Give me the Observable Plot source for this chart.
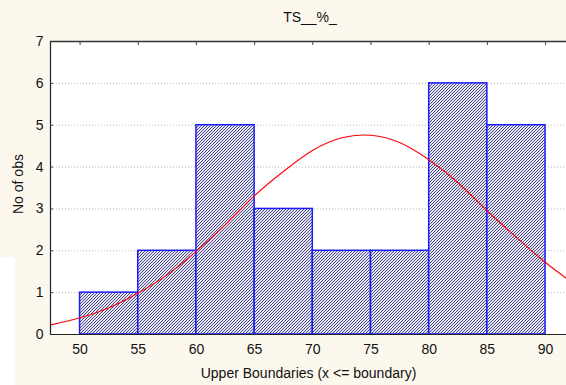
<!DOCTYPE html>
<html><head><meta charset="utf-8">
<script src="https://cdn.jsdelivr.net/npm/d3@7"></script>
<script src="https://cdn.jsdelivr.net/npm/@observablehq/plot@0.6"></script>
<style>
body{margin:0;background:#fdf8ee;font-family:"Liberation Sans",Arial,sans-serif;}
#wrap{position:relative;width:566px;height:385px;overflow:hidden;background:#fdf8ee}
#title{height:30px;position:relative}
#title span{position:absolute;top:9px;left:54px;width:512px;text-align:center;font-size:14px;line-height:16px;color:#111}
#patch{position:absolute;left:0;top:257px;width:15px;height:128px;background:#fff}
#chart svg{display:block}
</style>
</head><body>
<div id="wrap">
<div id="title"><span>TS__%_</span></div>
<div id="chart"></div>
<div id="patch"></div>
</div>
<script>
// Data
const binLower = [50, 55, 60, 65, 70, 75, 80, 85];
const binUpper = [55, 60, 65, 70, 75, 80, 85, 90];
const counts   = [1, 2, 5, 3, 2, 2, 6, 5];
const curveX = [47.5, 50, 52.5, 55, 57.5, 60, 62.5, 65, 67.5, 70, 72.5, 75, 77.5, 80, 82.5, 85, 87.5, 90, 92.5];
const curveY = [0.23, 0.40, 0.64, 0.99, 1.43, 1.99, 2.63, 3.32, 3.90, 4.40, 4.70, 4.76, 4.58, 4.17, 3.62, 2.95, 2.32, 1.72, 1.20];
const xTicks = [50, 55, 60, 65, 70, 75, 80, 85, 90];
const yTicks = [0, 1, 2, 3, 4, 5, 6, 7];
const gridY = [1, 2, 3, 4, 5, 6];
const xDomain = [47.46, 91.8];
const xTitle = "Upper Boundaries (x <= boundary)";
const yTitle = "No of obs";

const bins = binLower.map((lo, i) => ({lo, hi: binUpper[i], n: counts[i]}));
const curve = curveX.map((x, i) => ({x, y: curveY[i]}));

const plot = Plot.plot({
  width: 566,
  height: 355,
  marginTop: 11,
  marginBottom: 51,
  marginLeft: 50,
  marginRight: 0,
  style: {background: "transparent", fontSize: "14px", fontFamily: "'Liberation Sans', Arial, sans-serif", color: "#111"},
  x: {domain: xDomain, axis: null},
  y: {domain: [0, 7], axis: null},
  marks: [
    Plot.frame({fill: "white", stroke: null}),
    Plot.ruleY(gridY, {stroke: "#b4b4b4", strokeDasharray: "1,2", strokeWidth: 1}),
    Plot.rectY(bins, {x1: "lo", x2: "hi", y: "n", fill: "url(#hatch)", stroke: "#1a1aff", strokeWidth: 1.5}),
    Plot.line(curve, {x: "x", y: "y", stroke: "#ff0000", strokeWidth: 1.1, curve: "natural", clip: true}),
    Plot.ruleY([yTicks[0]], {stroke: "#222", strokeWidth: 1.2}),
    Plot.ruleY([yTicks[yTicks.length - 1]], {stroke: "#333", strokeWidth: 1.4}),
    Plot.ruleX([xDomain[0]], {stroke: "#222", strokeWidth: 1.2}),
    Plot.axisX(xTicks, {anchor: "bottom", tickSize: 0, tickPadding: 10, fontSize: 14, label: null}),
    Plot.axisX(xTicks, {anchor: "top", tickSize: -3, tickFormat: () => "", label: null, stroke: "#444"}),
    Plot.axisY(yTicks, {anchor: "left", tickSize: 0, tickPadding: 7, fontSize: 14, label: null}),
    Plot.axisY(gridY, {anchor: "left", tickSize: -3, tickFormat: () => "", label: null, stroke: "#444"}),
    Plot.text([xTitle], {frameAnchor: "bottom", dy: 39, text: d => d, fontSize: 14, lineAnchor: "middle"}),
    Plot.text([yTitle], {frameAnchor: "left", dx: -32, dy: 26, rotate: -90, text: d => d, fontSize: 14, lineAnchor: "middle"})
  ]
});

const defs = d3.select(plot).insert("defs", ":first-child");
const pat = defs.append("pattern").attr("id", "hatch").attr("patternUnits", "userSpaceOnUse").attr("width", 3).attr("height", 3);
pat.append("rect").attr("width", 3).attr("height", 3).attr("fill", "#e4e4f2");
pat.append("path").attr("d", "M-1,1 l2,-2 M0,3 l3,-3 M2,4 l2,-2").attr("stroke", "#42427e").attr("stroke-width", 0.95);

document.getElementById("chart").appendChild(plot);
</script>
</body></html>
